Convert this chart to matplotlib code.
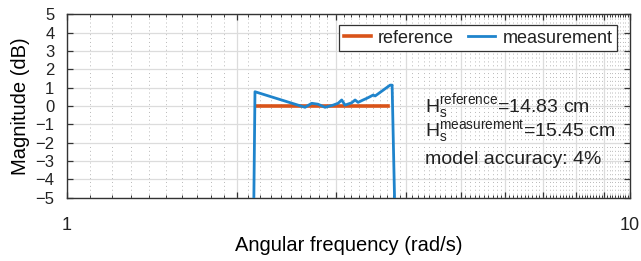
import numpy as np
import matplotlib
matplotlib.use("Agg")
import matplotlib.pyplot as plt
from matplotlib.ticker import FixedLocator, FuncFormatter, NullFormatter

plt.rcParams.update({
    "font.family": ["Liberation Sans", "DejaVu Sans"],
    "mathtext.fontset": "custom",
    "mathtext.rm": "Liberation Sans",
    "mathtext.it": "Liberation Sans",
    "text.color": "#222222",
})

# reference spectrum (flat at 0 dB over the wave band)
ref_freq = [2.17, 2.4, 2.7, 3.0, 3.3, 3.72]
ref_mag = [0.0, 0.0, 0.0, 0.0, 0.0, 0.0]

# measured spectrum
meas_freq = [2.142, 2.157, 2.647, 2.720, 2.791, 2.872, 2.969, 3.030, 3.075,
             3.117, 3.204, 3.248, 3.288, 3.356, 3.407, 3.453, 3.497, 3.526,
             3.748, 3.779, 3.835]
meas_mag = [-8.0, 0.78, -0.07, 0.15, 0.10, -0.07, 0.05, 0.15, 0.33,
            0.05, 0.18, 0.33, 0.20, 0.33, 0.42, 0.51, 0.60, 0.55,
            1.14, 1.14, -8.0]

hs_reference = 14.83
hs_measurement = 15.45
accuracy = 4

orange = "#D95319"
blue = "#1f84cc"

fig = plt.figure(figsize=(6.41, 2.61), dpi=100)
ax = fig.add_axes([0.1045, 0.2425, 0.8785, 0.7025])

ax.plot(ref_freq, ref_mag, color=orange, lw=2.6, label="reference", zorder=3)
ax.plot(meas_freq, meas_mag, color=blue, lw=2.0, label="measurement", zorder=4)

ax.set_xscale("log")
ax.set_xlim(1, 10)
ax.set_ylim(-5, 5)

major_x = list(range(1, 11))
minor_x = [i + j / 10 for i in range(1, 10) for j in range(1, 10)]
ax.xaxis.set_major_locator(FixedLocator(major_x))
ax.xaxis.set_minor_locator(FixedLocator(minor_x))
ax.xaxis.set_major_formatter(FuncFormatter(lambda v, p: f"{v:g}" if v in (1, 10) else ""))
ax.xaxis.set_minor_formatter(NullFormatter())
ax.set_yticks(range(-5, 6))

ax.grid(True, which="major", color="#dcdcdc", lw=0.9, ls="-")
ax.grid(True, which="minor", axis="x", color="#b8b8b8", lw=0.7, ls=(0, (1, 3)))
ax.set_axisbelow(True)

ax.tick_params(which="both", direction="in", top=True, right=True, color="#333333",
               labelcolor="#222222")
ax.tick_params(which="major", length=4, width=0.9)
ax.tick_params(which="minor", length=2, width=0.7)
ax.tick_params(axis="x", labelsize=13, pad=14)
ax.tick_params(axis="y", labelsize=12, pad=9)
for s in ax.spines.values():
    s.set_color("#333333")
    s.set_linewidth(1.0)

ax.set_xlabel("Angular frequency (rad/s)", fontsize=14.5, labelpad=1)
ax.set_ylabel("Magnitude (dB)", fontsize=14.5, labelpad=4)

leg = ax.legend(loc="upper right", bbox_to_anchor=(0.977, 0.942), borderaxespad=0,
                ncol=2, fontsize=13, fancybox=False, framealpha=1, edgecolor="#333333",
                handlelength=1.5, handletextpad=0.4, columnspacing=0.8,
                borderpad=0.25)
leg.get_frame().set_linewidth(0.9)

tx = 0.636
ax.text(tx, 0.467, r"H$_\mathrm{s}^\mathrm{reference}$=" + f"{hs_reference:.2f} cm",
        transform=ax.transAxes, fontsize=14, va="baseline", zorder=5)
ax.text(tx, 0.331, r"H$_\mathrm{s}^\mathrm{measurement}$=" + f"{hs_measurement:.2f} cm",
        transform=ax.transAxes, fontsize=14, va="baseline", zorder=5)
ax.text(tx, 0.184, f"model accuracy: {accuracy}%",
        transform=ax.transAxes, fontsize=14, va="baseline", zorder=5)

fig.savefig("out.png", dpi=100)
